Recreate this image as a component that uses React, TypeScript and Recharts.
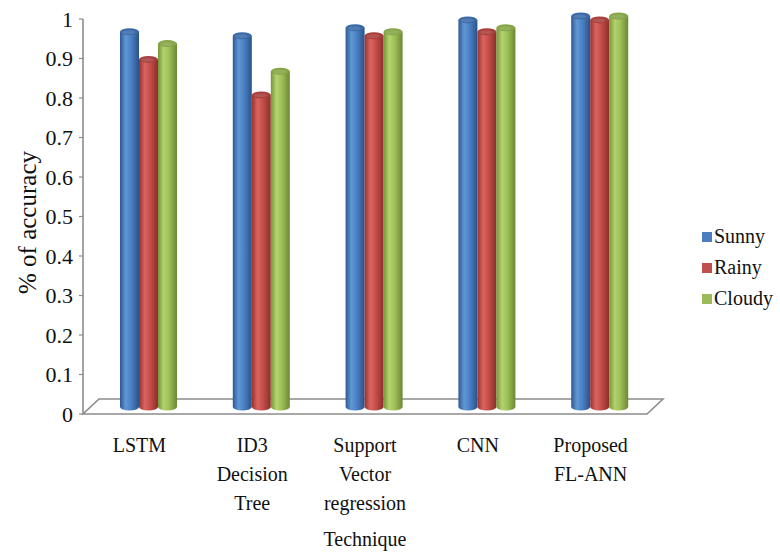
import React from 'react';
import { BarChart, Bar, XAxis, YAxis, ReferenceLine } from 'recharts';

const categories = ['LSTM', 'ID3\nDecision\nTree', 'Support\nVector\nregression', 'CNN', 'Proposed\nFL-ANN'];
const sunny = [0.95, 0.94, 0.96, 0.98, 0.99];
const rainy = [0.88, 0.79, 0.94, 0.95, 0.98];
const cloudy = [0.92, 0.85, 0.95, 0.96, 0.99];
const yTicks = [0, 0.1, 0.2, 0.3, 0.4, 0.5, 0.6, 0.7, 0.8, 0.9, 1];

const data = categories.map((name, i) => ({ name, Sunny: sunny[i], Rainy: rainy[i], Cloudy: cloudy[i] }));

const FONT = "'Liberation Serif', 'Times New Roman', serif";
const DX = 9;
const DY = 7;

const series = [
  { key: 'Sunny', color: '#4a7ebf', grad: 'gBlue', cap: '#3b6aa8', stops: ['#2d5892', '#6097d6', '#4a80c3', '#2a5187'] },
  { key: 'Rainy', color: '#c0504d', grad: 'gRed', cap: '#a83f3c', stops: ['#97322f', '#d96460', '#c24d49', '#8c2d2a'] },
  { key: 'Cloudy', color: '#9bbb59', grad: 'gGreen', cap: '#86a647', stops: ['#769535', '#b4d36e', '#9cbd57', '#6b8831'] },
];

const Cylinder = (props: any) => {
  const { x, y, width, height, grad, cap } = props;
  if (width == null || height == null) return null;
  const X = x + DX;
  const Y = y - DY;
  const rx = width / 2;
  const ry = 3.5;
  const bottom = Y + height;
  const d = `M${X},${Y} L${X},${bottom} A${rx},${ry} 0 0 0 ${X + width},${bottom} L${X + width},${Y} Z`;
  return (
    <g>
      <path d={d} fill={`url(#${grad})`} />
      <ellipse cx={X + rx} cy={Y} rx={rx} ry={ry} fill={cap} />
      <ellipse cx={X + rx - 1} cy={Y + 0.5} rx={rx - 3} ry={ry - 1.5} fill="#ffffff" opacity={0.12} />
    </g>
  );
};

const Floor = (props: any) => {
  const { x1, y1, x2 } = props;
  if (x1 == null) return null;
  const depth = 16;
  const pts = `${x1},${y1} ${x2},${y1} ${x2 + depth},${y1 - 15} ${x1 + depth},${y1 - 15}`;
  return <polygon points={pts} fill="none" stroke="#8c8c8c" strokeWidth={1.6} />;
};

const XTick = (props: any) => {
  const { x, y, payload } = props;
  const lines = String(payload.value).split('\n');
  return (
    <g>
      {lines.map((ln, i) => (
        <text key={i} x={x} y={y + 38 + i * 29} textAnchor="middle" fontFamily={FONT} fontSize={20} fill="#111">
          {ln}
        </text>
      ))}
    </g>
  );
};

const YTick = (props: any) => {
  const { x, y, payload } = props;
  return (
    <text x={x} y={y} dy={7.5} textAnchor="end" fontFamily={FONT} fontSize={22} fill="#111">
      {String(+Number(payload.value).toFixed(1))}
    </text>
  );
};

const LegendBox = () => (
  <div style={{ position: 'absolute', left: 702, top: 221, fontFamily: FONT, fontSize: 20, color: '#111' }}>
    {series.map((s) => (
      <div key={s.key} style={{ display: 'flex', alignItems: 'center', height: 31 }}>
        <span style={{ display: 'inline-block', width: 10, height: 10, background: s.color, marginRight: 2 }} />
        <span>{s.key}</span>
      </div>
    ))}
  </div>
);

export default function App() {
  return (
    <div style={{ position: 'absolute', left: 0, top: 0, width: 780, height: 552, background: '#fff' }}>
      <BarChart
        width={780}
        height={552}
        data={data}
        margin={{ top: 19, right: 133, bottom: 0, left: 0 }}
        barSize={19}
        barGap={0}
      >
        <defs>
          {series.map((s) => (
            <linearGradient key={s.grad} id={s.grad} x1="0" y1="0" x2="1" y2="0">
              <stop offset="0%" stopColor={s.stops[0]} />
              <stop offset="30%" stopColor={s.stops[1]} />
              <stop offset="60%" stopColor={s.stops[2]} />
              <stop offset="100%" stopColor={s.stops[3]} />
            </linearGradient>
          ))}
        </defs>
        <ReferenceLine y={0} shape={Floor} ifOverflow="visible" zIndex={-10} />
        <XAxis
          dataKey="name"
          height={138}
          axisLine={false}
          tickLine={false}
          tickSize={0}
          tickMargin={0}
          interval={0}
          tick={XTick}
          label={{
            content: (p: any) => {
              const vb = p.viewBox || {};
              return (
                <text x={vb.x + vb.width / 2} y={vb.y + 132} textAnchor="middle" fontFamily={FONT} fontSize={20} fill="#111">
                  Technique
                </text>
              );
            },
          }}
        />
        <YAxis
          width={83}
          domain={[0, 1]}
          ticks={yTicks}
          interval={0}
          tick={YTick}
          tickSize={4}
          tickMargin={6}
          axisLine={{ stroke: '#8c8c8c', strokeWidth: 1.6 }}
          tickLine={{ stroke: '#8c8c8c', strokeWidth: 1.2 }}
          label={{
            content: (p: any) => {
              const vb = p.viewBox || {};
              const cx = vb.x + 27;
              const cy = vb.y + vb.height / 2 + 6;
              return (
                <text x={cx} y={cy} transform={`rotate(-90 ${cx} ${cy})`} textAnchor="middle" dominantBaseline="central" fontFamily={FONT} fontSize={25} fill="#111">
                  % of accuracy
                </text>
              );
            },
          }}
        />
        {series.map((s) => (
          <Bar
            key={s.key}
            dataKey={s.key}
            fill={s.color}
            isAnimationActive={false}
            shape={(p: any) => <Cylinder {...p} grad={s.grad} cap={s.cap} />}
          />
        ))}
      </BarChart>
      <LegendBox />
    </div>
  );
}
